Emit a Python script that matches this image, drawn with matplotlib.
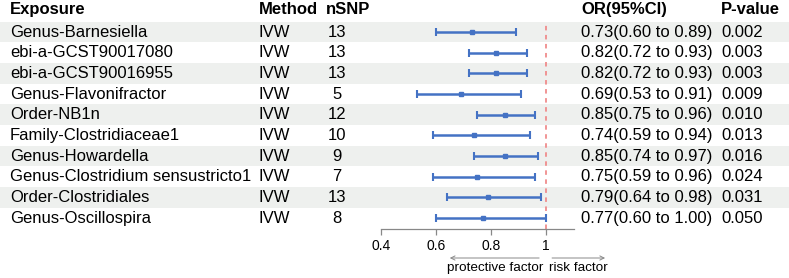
import matplotlib
matplotlib.use("Agg")
import matplotlib.pyplot as plt
import matplotlib.transforms as mtransforms
from matplotlib.patches import Rectangle

plt.rcParams['font.family'] = ['Liberation Sans', 'DejaVu Sans']

exposures = [
    "Genus-Barnesiella", "ebi-a-GCST90017080", "ebi-a-GCST90016955",
    "Genus-Flavonifractor", "Order-NB1n", "Family-Clostridiaceae1",
    "Genus-Howardella", "Genus-Clostridium sensustricto1",
    "Order-Clostridiales", "Genus-Oscillospira",
]
methods = ["IVW"] * 10
nsnp = [13, 13, 13, 5, 12, 10, 9, 7, 13, 8]
or_vals = [0.73, 0.82, 0.82, 0.69, 0.85, 0.74, 0.85, 0.75, 0.79, 0.77]
ci_low = [0.60, 0.72, 0.72, 0.53, 0.75, 0.59, 0.74, 0.59, 0.64, 0.60]
ci_high = [0.89, 0.93, 0.93, 0.91, 0.96, 0.94, 0.97, 0.96, 0.98, 1.00]
pvals = [0.002, 0.003, 0.003, 0.009, 0.010, 0.013, 0.016, 0.024, 0.031, 0.050]
xticks = [0.4, 0.6, 0.8, 1]
xtick_labels = ["0.4", "0.6", "0.8", "1"]

W, H = 789, 278
fig = plt.figure(figsize=(W / 100, H / 100), dpi=100)
ax = fig.add_axes([381 / W, (H - 229) / H, 192.5 / W, 229 / H])
ax.set_xlim(0.4, 1.1)
ax.set_ylim(9.53, -1.55)
ax.patch.set_alpha(0)

blue = "#4472c4"
fs = 12
n = len(exposures)
rows = list(range(n))

# shaded stripes across the whole width
tr_row = mtransforms.blended_transform_factory(fig.transFigure, ax.transData)
for i in rows:
    if i % 2 == 0:
        ax.add_patch(Rectangle((0, i - 0.5), 1, 1, transform=tr_row,
                               facecolor="#eef0ee", edgecolor="none",
                               zorder=0, clip_on=False))

ax.axvline(1, ymin=0, ymax=(9.53 + 0.5) / (9.53 + 1.55), color="#f08c8c",
           lw=1.3, ls=(0, (2.5, 2.5)), zorder=1)

xerr = [[o - l for o, l in zip(or_vals, ci_low)],
        [h - o for o, h in zip(or_vals, ci_high)]]
ax.errorbar(or_vals, rows, xerr=xerr, fmt="s", ms=2.5, color=blue,
            ecolor=blue, elinewidth=1.8, capsize=2.6, capthick=1.5, zorder=3)

for s in ["top", "right", "left"]:
    ax.spines[s].set_visible(False)
ax.spines["bottom"].set_color("#888888")
ax.spines["bottom"].set_linewidth(0.9)
ax.set_yticks([])
ax.set_xticks(xticks)
ax.set_xticklabels(xtick_labels, fontsize=10)
ax.tick_params(axis="x", length=4, width=0.9, color="#888888", pad=3)

# table text
hdr_y = -1.1
cols = [(10, "Exposure"), (259, "Method"), (326, "nSNP"),
        (581, "OR(95%CI)"), (721, "P-value")]
for x, t in cols:
    ax.text(x / W, hdr_y, t, transform=tr_row, fontsize=fs,
            fontweight="bold", va="center", ha="left")

for i in rows:
    ax.text(10 / W, i, exposures[i], transform=tr_row, fontsize=fs,
            va="center", ha="left")
    ax.text(259 / W, i, methods[i], transform=tr_row, fontsize=fs,
            va="center", ha="left")
    ax.text(337 / W, i, str(nsnp[i]), transform=tr_row, fontsize=fs,
            va="center", ha="center")
    ax.text(581 / W, i,
            f"{or_vals[i]:.2f}({ci_low[i]:.2f} to {ci_high[i]:.2f})",
            transform=tr_row, fontsize=fs, va="center", ha="left")
    ax.text(721 / W, i, f"{pvals[i]:.3f}", transform=tr_row, fontsize=fs,
            va="center", ha="left")

# direction arrows
tr_arr = mtransforms.blended_transform_factory(ax.transData, fig.transFigure)
ya = 1 - 258 / H
yl = 1 - 268 / H
arr = dict(arrowstyle="->,head_length=0.3,head_width=0.15",
           color="#888888", lw=0.7)
ax.annotate("", xy=(0.64, ya), xytext=(0.985, ya), xycoords=tr_arr,
            textcoords=tr_arr, arrowprops=arr, annotation_clip=False)
ax.annotate("", xy=(1.225, ya), xytext=(1.012, ya), xycoords=tr_arr,
            textcoords=tr_arr, arrowprops=arr, annotation_clip=False)
ax.text(0.64, yl, "protective factor", transform=tr_arr, fontsize=9.7,
        ha="left", va="center")
ax.text(1.012, yl, "risk factor", transform=tr_arr, fontsize=9.7,
        ha="left", va="center")

fig.savefig("out.png", dpi=100)
